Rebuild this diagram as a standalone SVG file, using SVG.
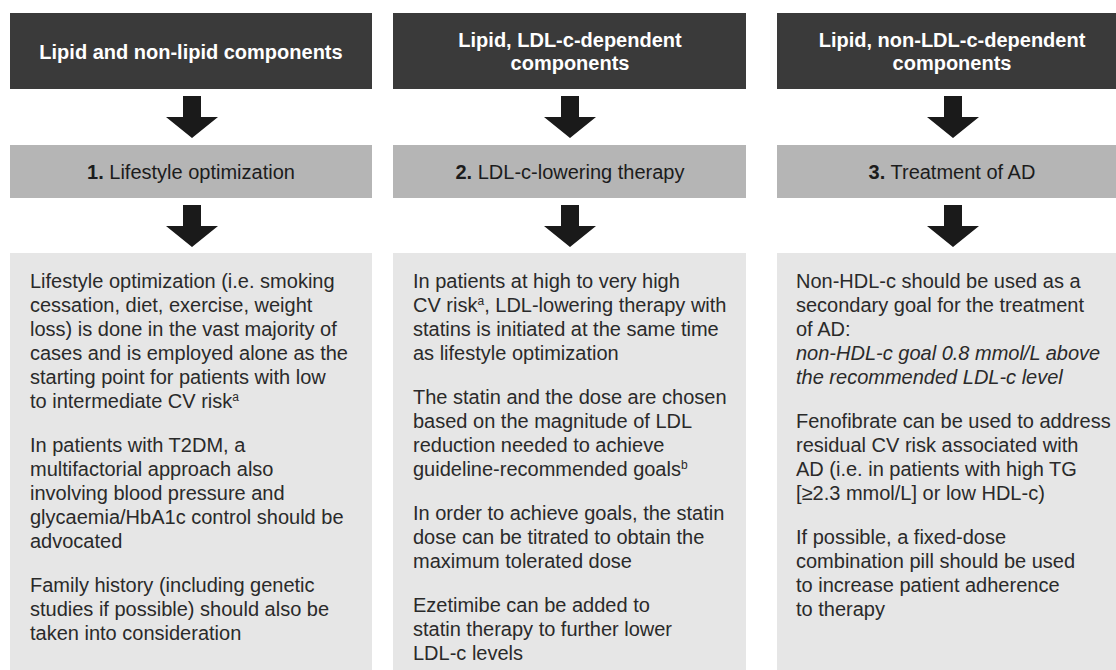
<svg xmlns="http://www.w3.org/2000/svg" width="1116" height="670" viewBox="0 0 1116 670">
<style>
.hdr{fill:#3a3a3a}
.step{fill:#b5b5b5}
.body{fill:#e6e6e6}
.ht{font-family:"Liberation Sans",Arial,sans-serif;font-size:20px;font-weight:bold;fill:#ffffff;text-anchor:middle}
.st{font-family:"Liberation Sans",Arial,sans-serif;font-size:20px;fill:#1c1c1c;text-anchor:middle}
.st tspan.b{font-weight:bold}
.bt{font-family:"Liberation Sans",Arial,sans-serif;font-size:20px;fill:#2a2a2a}
.arrow{fill:#1a1a1a}
</style>
<defs>
<polygon id="arr" points="-9,0 9,0 9,21 26,21 0,42 -26,21 -9,21"/>
</defs>
<rect width="1116" height="670" fill="#ffffff"/>

<g id="connectors">
<use href="#arr" class="arrow" x="192" y="96"/>
<use href="#arr" class="arrow" x="570" y="96"/>
<use href="#arr" class="arrow" x="953" y="96"/>
<use href="#arr" class="arrow" x="192" y="205"/>
<use href="#arr" class="arrow" x="570" y="205"/>
<use href="#arr" class="arrow" x="953" y="205"/>
</g>

<g id="header1">
<rect class="hdr" x="10" y="13" width="362" height="76"/>
<text class="ht" x="191" y="59">Lipid and non-lipid components</text>
</g>
<g id="header2">
<rect class="hdr" x="393" y="13" width="353" height="76"/>
<text class="ht" x="570" y="47">Lipid, LDL-c-dependent</text>
<text class="ht" x="570" y="70">components</text>
</g>
<g id="header3">
<rect class="hdr" x="777" y="13" width="352" height="76"/>
<text class="ht" x="952" y="47">Lipid, non-LDL-c-dependent</text>
<text class="ht" x="952" y="70">components</text>
</g>

<g id="step1">
<rect class="step" x="10" y="145" width="362" height="53"/>
<text class="st" x="191" y="179"><tspan class="b">1.</tspan> Lifestyle optimization</text>
</g>
<g id="step2">
<rect class="step" x="393" y="145" width="353" height="53"/>
<text class="st" x="570" y="179"><tspan class="b">2.</tspan> LDL-c-lowering therapy</text>
</g>
<g id="step3">
<rect class="step" x="777" y="145" width="352" height="53"/>
<text class="st" x="952" y="179"><tspan class="b">3.</tspan> Treatment of AD</text>
</g>

<g id="body1">
<rect class="body" x="10" y="253" width="362" height="420"/>
<text class="bt" x="30" y="288">Lifestyle optimization (i.e. smoking</text>
<text class="bt" x="30" y="312">cessation, diet, exercise, weight</text>
<text class="bt" x="30" y="336">loss) is done in the vast majority of</text>
<text class="bt" x="30" y="360">cases and is employed alone as the</text>
<text class="bt" x="30" y="384">starting point for patients with low</text>
<text class="bt" x="30" y="408">to intermediate CV risk<tspan font-size="12" dy="-7">a</tspan></text>
<text class="bt" x="30" y="452">In patients with T2DM, a</text>
<text class="bt" x="30" y="476">multifactorial approach also</text>
<text class="bt" x="30" y="500">involving blood pressure and</text>
<text class="bt" x="30" y="524">glycaemia/HbA1c control should be</text>
<text class="bt" x="30" y="548">advocated</text>
<text class="bt" x="30" y="592">Family history (including genetic</text>
<text class="bt" x="30" y="616">studies if possible) should also be</text>
<text class="bt" x="30" y="640">taken into consideration</text>
</g>

<g id="body2">
<rect class="body" x="393" y="253" width="353" height="420"/>
<text class="bt" x="413" y="288">In patients at high to very high</text>
<text class="bt" x="413" y="312">CV risk<tspan font-size="12" dy="-7">a</tspan><tspan dy="7">, LDL-lowering therapy with</tspan></text>
<text class="bt" x="413" y="336">statins is initiated at the same time</text>
<text class="bt" x="413" y="360">as lifestyle optimization</text>
<text class="bt" x="413" y="404">The statin and the dose are chosen</text>
<text class="bt" x="413" y="428">based on the magnitude of LDL</text>
<text class="bt" x="413" y="452">reduction needed to achieve</text>
<text class="bt" x="413" y="476">guideline-recommended goals<tspan font-size="12" dy="-7">b</tspan></text>
<text class="bt" x="413" y="520">In order to achieve goals, the statin</text>
<text class="bt" x="413" y="544">dose can be titrated to obtain the</text>
<text class="bt" x="413" y="568">maximum tolerated dose</text>
<text class="bt" x="413" y="612">Ezetimibe can be added to</text>
<text class="bt" x="413" y="636">statin therapy to further lower</text>
<text class="bt" x="413" y="660">LDL-c levels</text>
</g>

<g id="body3">
<rect class="body" x="777" y="253" width="352" height="420"/>
<text class="bt" x="796" y="288">Non-HDL-c should be used as a</text>
<text class="bt" x="796" y="312">secondary goal for the treatment</text>
<text class="bt" x="796" y="336">of AD:</text>
<text class="bt" x="796" y="360" font-style="italic">non-HDL-c goal 0.8 mmol/L above</text>
<text class="bt" x="796" y="384" font-style="italic">the recommended LDL-c level</text>
<text class="bt" x="796" y="428">Fenofibrate can be used to address</text>
<text class="bt" x="796" y="452">residual CV risk associated with</text>
<text class="bt" x="796" y="476">AD (i.e. in patients with high TG</text>
<text class="bt" x="796" y="500">[≥2.3 mmol/L] or low HDL-c)</text>
<text class="bt" x="796" y="544">If possible, a fixed-dose</text>
<text class="bt" x="796" y="568">combination pill should be used</text>
<text class="bt" x="796" y="592">to increase patient adherence</text>
<text class="bt" x="796" y="616">to therapy</text>
</g>
</svg>
